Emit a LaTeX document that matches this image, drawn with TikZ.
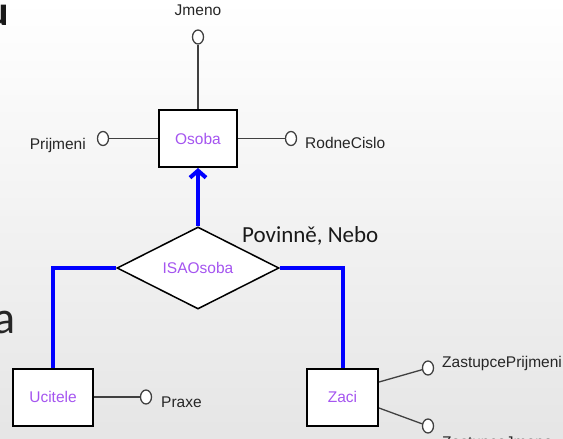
\documentclass[tikz,border=0pt]{standalone}
\usepackage{fontspec}
\setmainfont{Liberation Sans}
\newfontfamily\slidefont{Carlito}
\usetikzlibrary{arrows.meta, shapes.geometric}

\definecolor{entitytext}{RGB}{165,85,240}
\definecolor{isablue}{RGB}{0,0,255}

\begin{document}
\begin{tikzpicture}[x=1pt, y=-1pt]
        % slide background
        \shade[top color=white, bottom color=black!10] (0,0) rectangle (563,439);
        \useasboundingbox (0,0) rectangle (563,439);
        \node[anchor=base east, inner sep=0pt, text=black!90, font=\slidefont\bfseries\fontsize{42}{46}\selectfont] (titleu) at (9,25) {u};
        \node[anchor=base east, inner sep=0pt, text=black!85, font=\slidefont\fontsize{46}{50}\selectfont] (texta) at (16,333) {a};
        \begin{scope}[every node/.style={draw, fill=white, line width=2pt, minimum height=57pt, text=entitytext, font=\fontsize{15.5}{18}\selectfont}]
            \node[minimum width=78pt] (osoba) at (198,138.5) {Osoba};
            \node[minimum width=80pt] (ucitele) at (53,397) {Ucitele};
            \node[minimum width=71pt] (zaci) at (342.5,397) {Zaci};
        \end{scope}
        \node[draw, diamond, fill=white, line width=1.5pt, minimum width=162pt, minimum height=80pt, inner sep=0pt, text=entitytext, font=\fontsize{15.5}{18}\selectfont] (isa) at (198,268) {ISAOsoba};
        \begin{scope}[every node/.style={draw=black!75, ellipse, fill=white, line width=1.3pt, minimum width=11pt, minimum height=14pt, inner sep=0pt}]
            \node (jmeno) at (198,37) {};
            \node (prijmeni) at (103,138.5) {};
            \node (rodnecislo) at (291,138.5) {};
            \node (praxe) at (146,397) {};
            \node (zprijmeni) at (428,368) {};
            \node (zjmeno) at (428,426) {};
        \end{scope}
        \begin{scope}[every node/.style={inner sep=0pt, text=black!85, font=\fontsize{15.5}{18}\selectfont}]
            \node (jmenolabel) at (198,10) {Jmeno};
            \node[anchor=east] (prijmenilabel) at (86,145) {Prijmeni};
            \node[anchor=west] (rodnecislolabel) at (305,143) {RodneCislo};
            \node[anchor=west] (praxelabel) at (161,402) {Praxe};
            \node[anchor=west] (zprijmenilabel) at (442,363) {ZastupcePrijmeni};
            \node[anchor=west] (zjmenolabel) at (442,444) {ZastupceJmeno};
            \node[anchor=west, font=\slidefont\fontsize{23}{26}\selectfont, text=black!90] (isalabel) at (242,236) {Povinně, Nebo};
        \end{scope}
        \begin{scope}[every path/.style={draw=black!75, line width=1.3pt}]
            \draw (osoba) -- (jmeno);
            \draw (osoba) -- (prijmeni);
            \draw (osoba) -- (rodnecislo);
            \draw (ucitele) -- (praxe);
            \draw ([yshift=15pt]zaci.east) -- (zprijmeni);
            \draw ([yshift=-11pt]zaci.east) -- (zjmeno);
        \end{scope}
        \begin{scope}[every path/.style={draw=isablue, line width=4pt}]
            \draw[-{Straight Barb[length=7pt, width=16pt]}] (isa) -- (osoba);
            \draw (isa.west) -| (ucitele.north);
            \draw (isa.east) -| (zaci.north);
        \end{scope}
    \end{tikzpicture}
\end{document}
